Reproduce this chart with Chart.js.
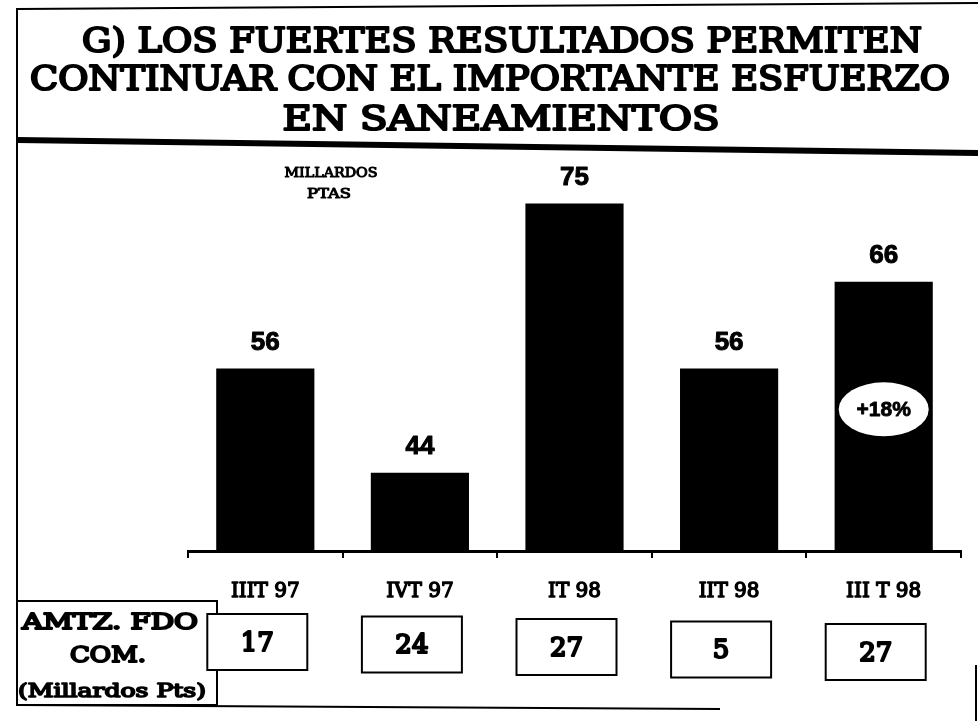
<!DOCTYPE html>
<html>
<head>
<meta charset="utf-8">
<script src="https://cdn.jsdelivr.net/npm/chart.js@4"></script>
<style>
  html, body { margin: 0; padding: 0; background: #fff; }
  #wrap { width: 978px; height: 721px; position: relative; }
</style>
</head>
<body>
<div id="wrap"><canvas id="c" width="978" height="721"></canvas></div>
<script>
// ---- data ----
const categories = ['IIIT 97', 'IVT 97', 'IT 98', 'IIT 98', 'III T 98'];
const saneamientos = [56, 44, 75, 56, 66];          // Millardos ptas
const amortizacionFdoCom = [17, 24, 27, 5, 27];     // Millardos pts
const titleLines = [
  'G) LOS FUERTES RESULTADOS PERMITEN',
  'CONTINUAR CON EL IMPORTANTE ESFUERZO',
  'EN SANEAMIENTOS'
];
const unitLines = ['MILLARDOS', 'PTAS'];
const rowLabelLines = ['AMTZ. FDO', 'COM.', '(Millardos Pts)'];
const growthLabel = '+18%';

const SERIF = '"DejaVu Serif", serif';
const SANS = '"Liberation Sans", Arial, sans-serif';
const TICK_SIZE = 20, TICK_PAD = 22, TICK_LEN = 7;

// heavy text: fill + stroke to emulate the very bold slab face of the scan
function heavyText(ctx, text, cx, baseline, font, weight, targetW, baselineMode) {
  ctx.save();
  ctx.font = font;
  const w = ctx.measureText(text).width;
  const s = targetW ? targetW / w : 1;
  ctx.translate(cx, baseline);
  ctx.scale(s, 1);
  ctx.textAlign = 'center';
  ctx.textBaseline = baselineMode || 'alphabetic';
  ctx.fillStyle = '#000';
  ctx.strokeStyle = '#000';
  ctx.lineJoin = 'round';
  ctx.lineWidth = weight;
  ctx.fillText(text, 0, 0);
  if (weight > 0) ctx.strokeText(text, 0, 0);
  ctx.restore();
}

const decor = {
  id: 'decor',
  beforeDraw(chart) {
    const ctx = chart.ctx;
    ctx.save();
    ctx.fillStyle = '#fff';
    ctx.fillRect(0, 0, chart.width, chart.height);
    ctx.strokeStyle = '#000';
    ctx.lineWidth = 2;
    ctx.beginPath();
    ctx.moveTo(17, 9); ctx.lineTo(978, 3);
    ctx.moveTo(17, 8); ctx.lineTo(17, 706);
    ctx.stroke();
    ctx.lineWidth = 6;
    ctx.beginPath();
    ctx.moveTo(17, 140); ctx.lineTo(978, 153);
    ctx.stroke();
    ctx.lineWidth = 2;
    ctx.beginPath();
    ctx.moveTo(17, 705); ctx.lineTo(720, 709);
    ctx.moveTo(976, 665); ctx.lineTo(976, 721);
    ctx.stroke();
    // title
    const tf = '33px ' + SERIF;
    heavyText(ctx, titleLines[0], 502, 52, tf, 2.2, 840);
    heavyText(ctx, titleLines[1], 490, 90, tf, 2.2, 920);
    heavyText(ctx, titleLines[2], 501, 130, tf, 2.2, 437);
    // units
    heavyText(ctx, unitLines[0], 331, 177, '13px ' + SERIF, 1, 93);
    heavyText(ctx, unitLines[1], 329, 198, '13px ' + SERIF, 1, 44);
    // row label box
    ctx.lineWidth = 2;
    ctx.strokeStyle = '#000';
    ctx.strokeRect(17, 601, 200, 104);
    heavyText(ctx, rowLabelLines[0], 110, 629, '22px ' + SERIF, 2, 176);
    heavyText(ctx, rowLabelLines[1], 108, 662, '22px ' + SERIF, 2, 76);
    heavyText(ctx, rowLabelLines[2], 112, 697, '18px ' + SERIF, 1.6, 188);
    ctx.restore();
  },
  afterDatasetsDraw(chart) {
    const ctx = chart.ctx;
    const meta = chart.getDatasetMeta(0);
    const xs = chart.scales.x;
    ctx.save();
    meta.data.forEach((bar, i) => {
      heavyText(ctx, String(saneamientos[i]), bar.x, bar.y - 26, 'bold 26px ' + SANS, 1, 0, 'middle');
    });
    const last = meta.data[meta.data.length - 1];
    const ey = chart.scales.y.getPixelForValue(51.3);
    ctx.beginPath();
    ctx.ellipse(last.x, ey, 45, 27, 0, 0, Math.PI * 2);
    ctx.fillStyle = '#fff';
    ctx.fill();
    heavyText(ctx, growthLabel, last.x, ey + 1, 'bold 21px ' + SANS, 0.8, 0, 'middle');
    amortizacionFdoCom.forEach((v, i) => {
      const cx = xs.getPixelForValue(i) - 8;
      const top = 614 + i * 2.5;
      ctx.fillStyle = '#fff';
      ctx.strokeStyle = '#000';
      ctx.lineWidth = 2;
      ctx.fillRect(cx - 50, top, 100, 56);
      ctx.strokeRect(cx - 50, top, 100, 56);
      heavyText(ctx, String(v), cx, top + 30, '26px ' + SERIF, 2.2, 0, 'middle');
    });
    ctx.restore();
  },
  afterDraw(chart) {
    // thicken the axis tick labels drawn by the library
    const ctx = chart.ctx;
    const xs = chart.scales.x;
    const y = xs.top + TICK_LEN + TICK_PAD + TICK_SIZE * 0.6;
    xs.ticks.forEach((t, i) => {
      heavyText(ctx, categories[i], xs.getPixelForTick(i), y, TICK_SIZE + 'px ' + SERIF, 1.4, 0, 'middle');
    });
  }
};

function build() {
  new Chart(document.getElementById('c'), {
    type: 'bar',
    data: {
      labels: categories,
      datasets: [{
        data: saneamientos,
        backgroundColor: '#000',
        borderWidth: 0,
        categoryPercentage: 1,
        barPercentage: 0.635
      }]
    },
    options: {
      responsive: false,
      animation: false,
      layout: { padding: { left: 188, right: 17, top: 160, bottom: 95 } },
      plugins: { legend: { display: false }, tooltip: { enabled: false }, title: { display: false } },
      scales: {
        y: { display: false, min: 35, max: 80 },
        x: {
          offset: true,
          border: { display: true, color: '#000', width: 3 },
          grid: { offset: true, drawOnChartArea: false, drawTicks: true, tickLength: TICK_LEN, color: '#000', lineWidth: 2 },
          ticks: { color: '#000', padding: TICK_PAD, font: { family: SERIF, size: TICK_SIZE } }
        }
      }
    },
    plugins: [decor]
  });
}
if (document.fonts && document.fonts.load) {
  Promise.all([
    document.fonts.load('32px "DejaVu Serif"'),
    document.fonts.load('bold 25px "Liberation Sans"')
  ]).then(build, build);
} else { build(); }
</script>
</body>
</html>
